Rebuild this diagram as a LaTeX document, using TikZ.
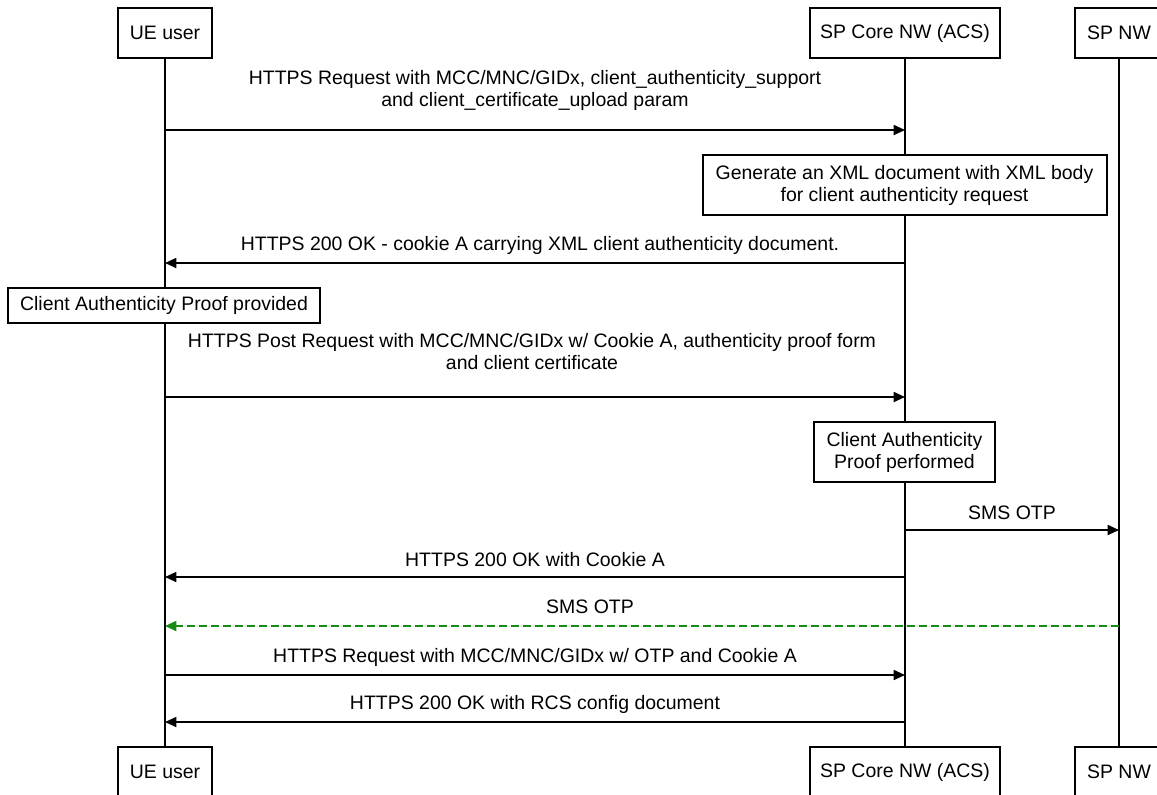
\documentclass[tikz,border=0pt]{standalone}
\usepackage{fontspec}
\setmainfont{Liberation Sans}
\usetikzlibrary{arrows.meta}

\definecolor{otpgreen}{RGB}{22,140,22}

\begin{document}
\begin{tikzpicture}[x=0.75pt, y=-0.75pt]
    % settings for this picture
    \tikzset{
      >={Triangle[length=8.5pt, width=7.5pt]},
      txt/.style={font=\fontsize{14.6}{16.5}\selectfont},
      actor/.style={draw, line width=1.5pt, txt, minimum height=37.5pt, inner sep=0pt},
      notebox/.style={draw, fill=white, line width=1.5pt, txt, align=center, inner sep=0pt},
      msgtext/.style={txt, align=center},
      msg/.style={->, line width=1.3pt},
      lifeline/.style={line width=1.5pt},
    }
    \useasboundingbox (0,0) rectangle (1157,794);
    \clip (0,0) rectangle (1157,794);

    % actors
    \node[actor, minimum width=71pt] (ue) at (165,33) {UE user};
    \node[actor, minimum width=143pt] (core) at (905,33) {SP Core NW (ACS)};
    \node[actor, minimum width=66pt] (spnw) at (1119,33) {SP NW};
    \node[actor, minimum width=71pt] (ueb) at (165,772) {UE user};
    \node[actor, minimum width=143pt] (coreb) at (905,772) {SP Core NW (ACS)};
    \node[actor, minimum width=66pt] (spnwb) at (1119,772) {SP NW};

    % lifelines
    \draw[lifeline] (ue) -- (ueb);
    \draw[lifeline] (core) -- (coreb);
    \draw[lifeline] (spnw) -- (spnwb);

    % notes
    \node[notebox, minimum width=303pt, minimum height=45pt] (gen) at (904.5,185)
      {Generate an XML document with XML body\\for client authenticity request};
    \node[notebox, minimum width=234pt, minimum height=26pt] (provided) at (164,305.5)
      {Client Authenticity Proof provided};
    \node[notebox, minimum width=136pt, minimum height=45pt] (performed) at (904.5,452)
      {Client Authenticity\\Proof performed};

    % messages
    \node[msgtext] (t1) at (535,90)
      {HTTPS Request with MCC/MNC/GIDx, client\_authenticity\_support\\and client\_certificate\_upload param};
    \draw[msg] (ue |- 0,130) -- (core |- 0,130);

    \node[msgtext] (t2) at (540,245)
      {HTTPS 200 OK - cookie A carrying XML client authenticity document.};
    \draw[msg] (core |- 0,263) -- (ue |- 0,263);

    \node[msgtext] (t3) at (532,352)
      {HTTPS Post Request with MCC/MNC/GIDx w/ Cookie A, authenticity proof form\\and client certificate};
    \draw[msg] (ue |- 0,397) -- (core |- 0,397);

    \node[msgtext] (t4) at (1012,513) {SMS OTP};
    \draw[msg] (core |- 0,530) -- (spnw |- 0,530);

    \node[msgtext] (t5) at (535,560) {HTTPS 200 OK with Cookie A};
    \draw[msg] (core |- 0,577) -- (ue |- 0,577);

    \node[msgtext] (t6) at (590,607) {SMS OTP};
    \draw[msg, draw=otpgreen, fill=otpgreen, dash pattern=on 6pt off 3pt] (spnw |- 0,626) -- (ue |- 0,626);

    \node[msgtext] (t7) at (535,657) {HTTPS Request with MCC/MNC/GIDx w/ OTP and Cookie A};
    \draw[msg] (ue |- 0,675) -- (core |- 0,675);

    \node[msgtext] (t8) at (535,704) {HTTPS 200 OK with RCS config document};
    \draw[msg] (core |- 0,722) -- (ue |- 0,722);

  \end{tikzpicture}
\end{document}
